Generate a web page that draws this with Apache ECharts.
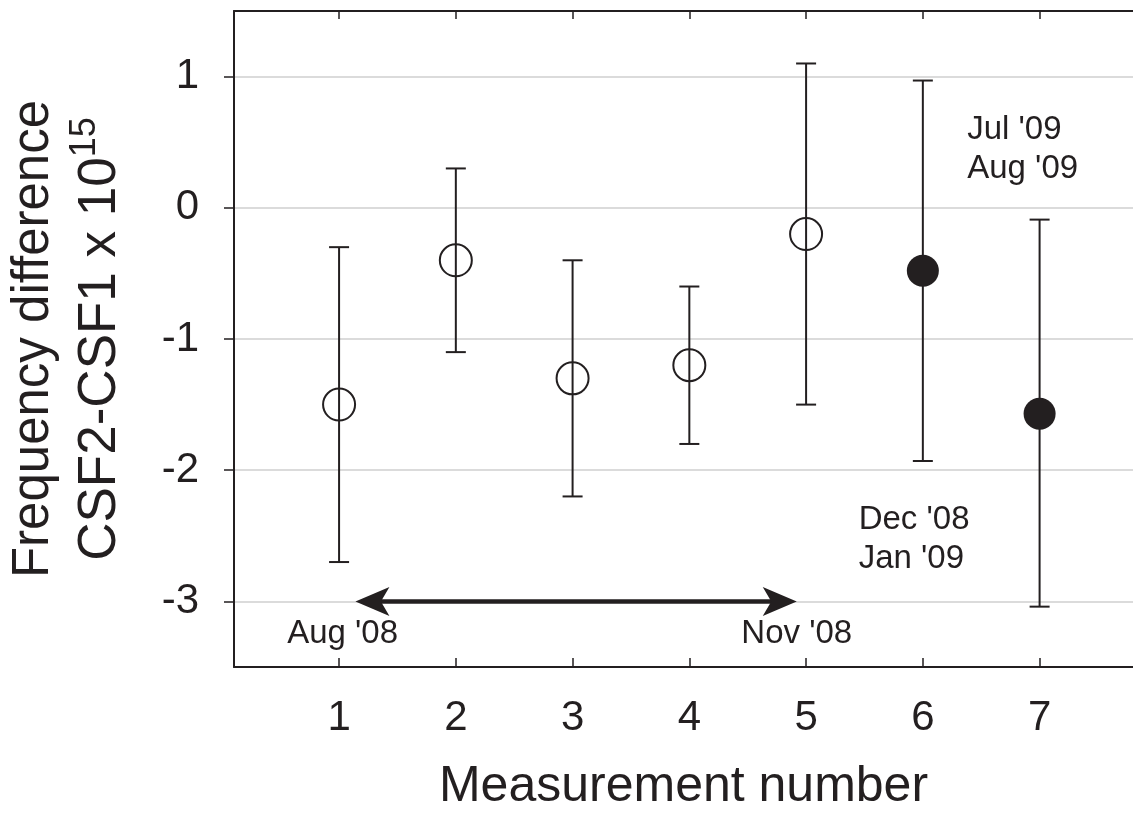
<!DOCTYPE html>
<html><head><meta charset="utf-8">
<script src="https://cdn.jsdelivr.net/npm/echarts@6/dist/echarts.min.js"></script>
<style>html,body{margin:0;padding:0;background:#fff}#c{width:1133px;height:814px}</style>
</head><body><div id="c"></div>
<script>
// ---- data ----
const measurement = [1, 2, 3, 4, 5, 6, 7];
const freqDiff   = [-1.5, -0.4, -1.3, -1.2, -0.2, -0.48, -1.57];
const errLow     = [-2.7, -1.1, -2.2, -1.8, -1.5, -1.93, -3.04];
const errHigh    = [-0.3, 0.3, -0.4, -0.6, 1.1, 0.97, -0.09];
const filledFlag = [0, 0, 0, 0, 0, 1, 1];
const xTicks = [1, 2, 3, 4, 5, 6, 7];
const yTicks = [-3, -2, -1, 0, 1];
const arrowStart = [1.14, -3];
const arrowEnd   = [4.92, -3];
const annotText  = ["Aug '08", "Nov '08", "Dec '08\nJan '09", "Jul '09\nAug '09"];
const annotX     = [1.03, 4.92, 5.45, 6.38];
const annotY     = [-3.25, -3.25, -2.53, 0.445];
const annotAlign = ['center', 'center', 'left', 'left'];

const INK = '#231f20';
const FONT = "'Liberation Sans', Arial, Helvetica, sans-serif";

const openPts = [], filledPts = [];
measurement.forEach((x, i) => (filledFlag[i] ? filledPts : openPts).push([x, freqDiff[i]]));
const errData = measurement.map((x, i) => [x, errLow[i], errHigh[i]]);
const annotData = annotText.map((t, i) => ({
  value: [annotX[i], annotY[i]],
  label: { formatter: t, align: annotAlign[i] }
}));
const arrowData = [[arrowStart[0], arrowStart[1], arrowEnd[0], arrowEnd[1]]];

function arrowHead(tip, dirX, dirY, len, half) {
  const bx = tip[0] - dirX * len, by = tip[1] - dirY * len;
  const nx = tip[0] - dirX * len * 0.75, ny = tip[1] - dirY * len * 0.75;
  const px = -dirY * half, py = dirX * half;
  return [[tip[0], tip[1]], [bx + px, by + py], [nx, ny], [bx - px, by - py]];
}

const chart = echarts.init(document.getElementById('c'), null, { renderer: 'canvas' });
chart.setOption({
  backgroundColor: '#fff',
  animation: false,
  grid: { left: 234, right: 0, top: 11, bottom: 147, containLabel: false, outerBoundsMode: 'none' },
  xAxis: [{
    type: 'value', min: 0.1, max: 7.8, position: 'bottom',
    axisLine: { show: true, onZero: false, lineStyle: { color: INK, width: 2 } },
    axisTick: { show: true, inside: true, length: 9, customValues: xTicks, lineStyle: { color: INK, width: 1.5 } },
    axisLabel: { customValues: xTicks, fontSize: 42, color: INK, fontFamily: FONT, margin: 30 },
    splitLine: { show: false },
    name: 'Measurement number', nameLocation: 'middle', nameGap: 95,
    nameTextStyle: { fontSize: 50, color: INK, fontFamily: FONT }
  }, {
    type: 'value', min: 0.1, max: 7.8, position: 'top',
    axisLine: { show: true, onZero: false, lineStyle: { color: INK, width: 2 } },
    axisTick: { show: true, inside: true, length: 8, customValues: xTicks, lineStyle: { color: INK, width: 1.5 } },
    axisLabel: { show: false },
    splitLine: { show: false }
  }],
  yAxis: {
    type: 'value', min: -3.5, max: 1.5,
    axisLine: { show: true, onZero: false, lineStyle: { color: INK, width: 2 } },
    axisTick: { show: true, inside: false, length: 10, customValues: yTicks, lineStyle: { color: INK, width: 1.5 } },
    axisLabel: { customValues: yTicks, fontSize: 42, color: INK, fontFamily: FONT, margin: 35 },
    splitLine: { show: true, lineStyle: { color: '#cfcfcf', width: 1.5 } },
    name: 'Frequency difference\n{l2|CSF2-CSF1 x 10}{sup|15}',
    nameLocation: 'middle', nameRotate: 90, nameGap: 100,
    nameTextStyle: {
      fontSize: 51, color: INK, fontFamily: FONT, lineHeight: 67,
      rich: {
        l2: { fontSize: 53, color: INK, fontFamily: FONT, lineHeight: 67 },
        sup: { fontSize: 36, color: INK, fontFamily: FONT, verticalAlign: 'top', lineHeight: 40 }
      }
    }
  },
  series: [{
    type: 'custom', name: 'errors', z: 2,
    data: errData,
    encode: { x: 0, y: [1, 2] },
    renderItem: function (params, api) {
      const x = api.value(0);
      const lo = api.coord([x, api.value(1)]);
      const hi = api.coord([x, api.value(2)]);
      const cap = 10;
      const style = { stroke: INK, lineWidth: 2 };
      return {
        type: 'group', children: [
          { type: 'line', shape: { x1: lo[0], y1: lo[1], x2: hi[0], y2: hi[1] }, style: style },
          { type: 'line', shape: { x1: lo[0] - cap, y1: lo[1], x2: lo[0] + cap, y2: lo[1] }, style: style },
          { type: 'line', shape: { x1: hi[0] - cap, y1: hi[1], x2: hi[0] + cap, y2: hi[1] }, style: style }
        ]
      };
    }
  }, {
    type: 'custom', name: 'span', z: 2,
    data: arrowData,
    encode: { x: [0, 2], y: [1, 3] },
    renderItem: function (params, api) {
      const a = api.coord([api.value(0), api.value(1)]);
      const b = api.coord([api.value(2), api.value(3)]);
      const dx = b[0] - a[0], dy = b[1] - a[1];
      const L = Math.sqrt(dx * dx + dy * dy) || 1;
      const ux = dx / L, uy = dy / L;
      const len = 34, half = 14.5;
      return {
        type: 'group', children: [
          { type: 'line', shape: { x1: a[0] + ux * len * 0.7, y1: a[1] + uy * len * 0.7, x2: b[0] - ux * len * 0.7, y2: b[1] - uy * len * 0.7 },
            style: { stroke: INK, lineWidth: 4.5 } },
          { type: 'polygon', shape: { points: arrowHead(a, -ux, -uy, len, half) }, style: { fill: INK } },
          { type: 'polygon', shape: { points: arrowHead(b, ux, uy, len, half) }, style: { fill: INK } }
        ]
      };
    }
  }, {
    type: 'scatter', name: 'open', z: 3,
    data: openPts, symbol: 'circle', symbolSize: 32,
    itemStyle: { color: 'rgba(0,0,0,0)', borderColor: INK, borderWidth: 2, opacity: 1 }
  }, {
    type: 'scatter', name: 'filled', z: 3,
    data: filledPts, symbol: 'circle', symbolSize: 32,
    itemStyle: { color: INK, borderColor: INK, borderWidth: 0, opacity: 1 }
  }, {
    type: 'scatter', name: 'annotations', z: 4,
    data: annotData, symbolSize: 1,
    itemStyle: { color: 'rgba(0,0,0,0)', opacity: 1 },
    label: { show: true, position: 'inside', color: INK, fontSize: 33, fontFamily: FONT, lineHeight: 39, verticalAlign: 'middle' }
  }]
});
</script></body></html>
